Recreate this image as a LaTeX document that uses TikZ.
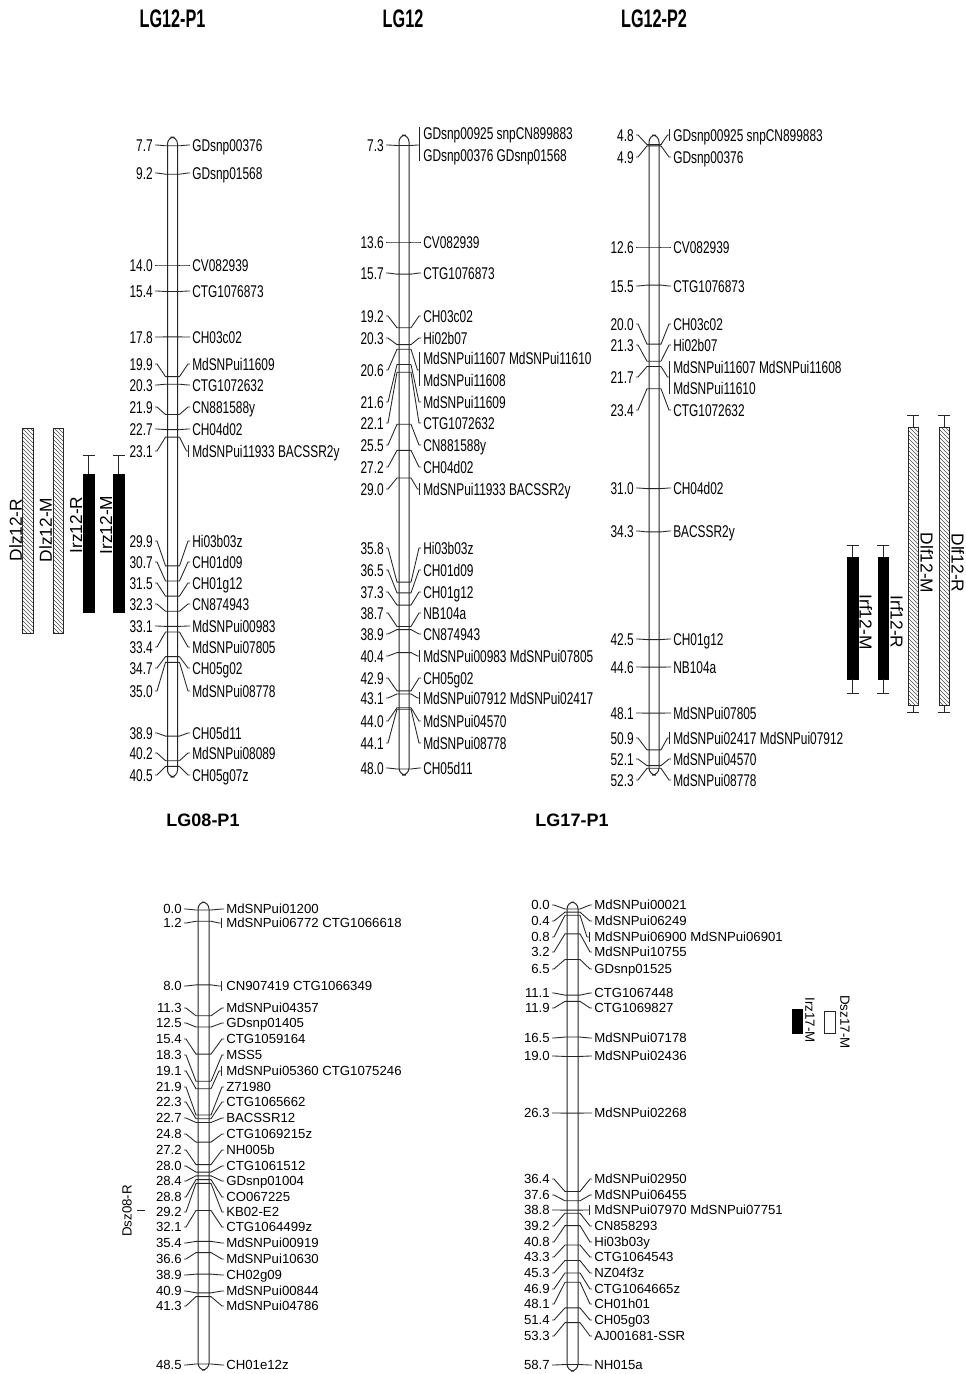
\documentclass[tikz,border=0pt]{standalone}
\usepackage{fontspec}
\setmainfont{Liberation Sans}
\newfontfamily\narrowfont[FakeStretch=0.70]{Liberation Sans}
\newfontfamily\titlenarrow[FakeStretch=0.64]{Liberation Sans}
\usetikzlibrary{calc,patterns}
\newcount\mkc
\newcommand\setchr[7]{\def\cL{#1}\def\cR{#2}\def\Nx{#3}\def\Mx{#4}\def\Yz{#5}\def\Cz{#6}\def\Sc{#7}}
\newcommand\chrom[2]{\draw[chr] (\cL,#1) rectangle (\cR,#2);}
\newcommand\mkstart[2]{%
  \global\advance\mkc by 1\relax
  \edef\id{\the\mkc}%
  \pgfmathsetmacro\ty{\Yz+(#1-\Cz)*\Sc}%
  \node[numlab] (n\id) at (\Nx,#2) {#1};%
  \coordinate (a\id) at (\cL,\ty);%
  \coordinate (b\id) at (\cR,\ty);%
  \draw[conn] ($(n\id.east)+(2,0)$) -- ($(n\id.east)+(4,0)$) -- ($(a\id)+(-2,0)$) -- (a\id) -- (b\id) -- ($(b\id)+(2,0)$);%
}
\newcommand\mk[3]{\mkstart{#1}{#2}%
  \node[namelab] (m\id) at (\Mx,#2) {#3};%
  \draw[conn] ($(b\id)+(2,0)$) -- ($(m\id.west)+(-4,0)$) -- ($(m\id.west)+(-2,0)$);}
\newcommand\mkb[3]{\mkstart{#1}{#2}%
  \node[namelab] (m\id) at (\Mx,#2) {#3};%
  \draw[conn] ($(b\id)+(2,0)$) -- ($(m\id.west)+(-\bg-2,0)$) -- ($(m\id.west)+(-\bg,0)$);%
  \draw[conn] ($(m\id.west)+(-\bg,-\bh)$) -- ($(m\id.west)+(-\bg,\bh)$);}
\newcommand\mkbb[6]{\mkstart{#1}{#2}%
  \node[namelab] (m\id) at (\Mx,#3) {#4};%
  \node[namelab] (p\id) at (\Mx,#5) {#6};%
  \coordinate (c\id) at (\Mx-\bg,#2);%
  \draw[conn] ($(b\id)+(2,0)$) -- ($(c\id)+(-2,0)$) -- (c\id);%
  \draw[conn] ($(m\id.west)+(-\bg,-\bh)$) -- ($(p\id.west)+(-\bg,\bh)$);}
\def\labfont{\narrowfont\fontsize{12.75}{13}\selectfont}
\def\capht{9.1pt}
\def\bg{3.5}\def\bh{6}
\tikzset{
  conn/.style={line width=0.65pt,draw=black!85},
  chr/.style={line width=0.75pt,draw=black!85,rounded corners=5.2},
  numlab/.style={anchor=east,inner sep=0pt,text height=\capht,text depth=0pt,font=\labfont,text=black},
  namelab/.style={anchor=west,inner sep=0pt,text height=\capht,text depth=0pt,font=\labfont,text=black},
  ttop/.style={font=\titlenarrow\bfseries\fontsize{19}{20}\selectfont,inner sep=0pt},
  tbot/.style={font=\bfseries\fontsize{13.5}{14}\selectfont,inner sep=0pt},
  qlab/.style={font=\fontsize{13}{14}\selectfont,inner sep=0pt},
  qlabs/.style={font=\fontsize{10}{11}\selectfont,inner sep=0pt},
  hbar/.style={draw=black!85,line width=0.7pt,pattern=north west lines,pattern color=black!70},
  bbar/.style={draw=black,fill=black,line width=0.7pt},
  wbar/.style={draw=black!85,fill=white,line width=0.7pt},
  whisk/.style={draw=black!85,line width=0.7pt}
}
\begin{document}
\begin{tikzpicture}[x=0.75pt,y=-0.75pt]
\fill[white] (0,0) rectangle (965,1374);
\path[use as bounding box] (0,0) rectangle (965,1374);
% titles
\node[ttop] (T1) at (172.5,19) {LG12-P1};
\node[ttop] (T2) at (403,19) {LG12};
\node[ttop] (T3) at (654,19) {LG12-P2};
\node[tbot] (T4) at (203,820) {LG08-P1};
\node[tbot] (T5) at (572,820) {LG17-P1};
% ---------- LG12-P1
\setchr{167.5}{177.5}{153}{192}{265}{14}{18.92}
\chrom{137}{777}
\mk{7.7}{145}{GDsnp00376}
\mk{9.2}{173}{GDsnp01568}
\mk{14.0}{265}{CV082939}
\mk{15.4}{291}{CTG1076873}
\mk{17.8}{337}{CH03c02}
\mk{19.9}{364}{MdSNPui11609}
\mk{20.3}{385}{CTG1072632}
\mk{21.9}{407}{CN881588y}
\mk{22.7}{429}{CH04d02}
\mkb{23.1}{451}{MdSNPui11933 BACSSR2y}
\mk{29.9}{541}{Hi03b03z}
\mk{30.7}{562}{CH01d09}
\mk{31.5}{583}{CH01g12}
\mk{32.3}{604}{CN874943}
\mk{33.1}{626}{MdSNPui00983}
\mk{33.4}{647}{MdSNPui07805}
\mk{34.7}{668}{CH05g02}
\mk{35.0}{691}{MdSNPui08778}
\mk{38.9}{733}{CH05d11}
\mk{40.2}{753}{MdSNPui08089}
\mk{40.5}{775}{CH05g07z}
% ---------- LG12
\setchr{399}{409}{384}{423}{242}{13.6}{15.32}
\chrom{135}{775}
\mkbb{7.3}{145}{133}{GDsnp00925 snpCN899883}{155}{GDsnp00376 GDsnp01568}
\mk{13.6}{242}{CV082939}
\mk{15.7}{273}{CTG1076873}
\mk{19.2}{316}{CH03c02}
\mk{20.3}{338}{Hi02b07}
\mkbb{20.6}{370}{358}{MdSNPui11607 MdSNPui11610}{380}{MdSNPui11608}
\mk{21.6}{402}{MdSNPui11609}
\mk{22.1}{423}{CTG1072632}
\mk{25.5}{445}{CN881588y}
\mk{27.2}{467}{CH04d02}
\mkb{29.0}{489}{MdSNPui11933 BACSSR2y}
\mk{35.8}{548}{Hi03b03z}
\mk{36.5}{570}{CH01d09}
\mk{37.3}{592}{CH01g12}
\mk{38.7}{613}{NB104a}
\mk{38.9}{634}{CN874943}
\mkb{40.4}{656}{MdSNPui00983 MdSNPui07805}
\mk{42.9}{678}{CH05g02}
\mkb{43.1}{698}{MdSNPui07912 MdSNPui02417}
\mk{44.0}{721}{MdSNPui04570}
\mk{44.1}{743}{MdSNPui08778}
\mk{48.0}{768}{CH05d11}
% ---------- LG12-P2
\setchr{649}{659}{634}{673}{247}{12.6}{13.13}
\chrom{135}{775}
\mkb{4.8}{135}{GDsnp00925 snpCN899883}
\mk{4.9}{157}{GDsnp00376}
\mk{12.6}{247}{CV082939}
\mk{15.5}{286}{CTG1076873}
\mk{20.0}{324}{CH03c02}
\mk{21.3}{345}{Hi02b07}
\mkbb{21.7}{377}{367}{MdSNPui11607 MdSNPui11608}{388}{MdSNPui11610}
\mk{23.4}{410}{CTG1072632}
\mk{31.0}{488}{CH04d02}
\mk{34.3}{531}{BACSSR2y}
\mk{42.5}{639}{CH01g12}
\mk{44.6}{667}{NB104a}
\mk{48.1}{713}{MdSNPui07805}
\mkb{50.9}{738}{MdSNPui02417 MdSNPui07912}
\mk{52.1}{759}{MdSNPui04570}
\mk{52.3}{780}{MdSNPui08778}
% ---------- QTL bars (top)
\draw[hbar] (22,428) rectangle (33,633);
\draw[hbar] (53,428) rectangle (63,633);
\draw[bbar] (83,474) rectangle (94,612);
\draw[whisk] (88.5,474) -- (88.5,455) (82.5,455) -- (94.5,455);
\draw[bbar] (113,474) rectangle (124,612);
\draw[whisk] (118.5,474) -- (118.5,455) (112.5,455) -- (124.5,455);
\node[qlab,rotate=90] (q1) at (15.5,530) {Dlz12-R};
\node[qlab,rotate=90] (q2) at (45.5,530) {Dlz12-M};
\node[qlab,rotate=90] (q3) at (76,525) {Irz12-R};
\node[qlab,rotate=90] (q4) at (106,525) {Irz12-M};
\draw[bbar] (847,557) rectangle (858,679);
\draw[whisk] (852.5,557) -- (852.5,545) (846.5,545) -- (858.5,545) (852.5,679) -- (852.5,693) (846.5,693) -- (858.5,693);
\draw[bbar] (878,557) rectangle (888,679);
\draw[whisk] (883,557) -- (883,545) (877,545) -- (889,545) (883,679) -- (883,693) (877,693) -- (889,693);
\draw[hbar] (908,427) rectangle (918,705);
\draw[whisk] (913,427) -- (913,415) (907,415) -- (919,415) (913,705) -- (913,712) (907,712) -- (919,712);
\draw[hbar] (939,427) rectangle (949,705);
\draw[whisk] (944,427) -- (944,415) (938,415) -- (950,415) (944,705) -- (944,712) (938,712) -- (950,712);
\node[qlab,rotate=-90] (q5) at (866,622) {Irf12-M};
\node[qlab,rotate=-90] (q6) at (897,622) {Irf12-R};
\node[qlab,rotate=-90] (q7) at (927,563) {Dlf12-M};
\node[qlab,rotate=-90] (q8) at (958,563) {Dlf12-R};
% ---------- bottom section fonts
\def\labfont{\fontsize{9.9}{10}\selectfont}
\def\capht{7.1pt}
\def\bg{5}\def\bh{5}
% ---------- LG08-P1
\setchr{198}{209}{182}{226}{910}{0}{9.36}
\chrom{902}{1370}
\mk{0.0}{909}{MdSNPui01200}
\mkb{1.2}{923}{MdSNPui06772 CTG1066618}
\mkb{8.0}{986}{CN907419 CTG1066349}
\mk{11.3}{1008}{MdSNPui04357}
\mk{12.5}{1023}{GDsnp01405}
\mk{15.4}{1039}{CTG1059164}
\mk{18.3}{1055}{MSS5}
\mkb{19.1}{1071}{MdSNPui05360 CTG1075246}
\mk{21.9}{1087}{Z71980}
\mk{22.3}{1102}{CTG1065662}
\mk{22.7}{1118}{BACSSR12}
\mk{24.8}{1134}{CTG1069215z}
\mk{27.2}{1150}{NH005b}
\mk{28.0}{1166}{CTG1061512}
\mk{28.4}{1181}{GDsnp01004}
\mk{28.8}{1197}{CO067225}
\mk{29.2}{1212}{KB02-E2}
\mk{32.1}{1227}{CTG1064499z}
\mk{35.4}{1243}{MdSNPui00919}
\mk{36.6}{1259}{MdSNPui10630}
\mk{38.9}{1275}{CH02g09}
\mk{40.9}{1291}{MdSNPui00844}
\mk{41.3}{1306}{MdSNPui04786}
\mk{48.5}{1365}{CH01e12z}
\draw[whisk] (137,1210) -- (145,1210);
\node[qlabs,rotate=90] (q11) at (127,1211) {Dsz08-R};
% ---------- LG17-P1
\setchr{567}{578}{550}{594}{909}{0}{7.76}
\chrom{902}{1371}
\mk{0.0}{905}{MdSNPui00021}
\mk{0.4}{921}{MdSNPui06249}
\mkb{0.8}{937}{MdSNPui06900 MdSNPui06901}
\mk{3.2}{952}{MdSNPui10755}
\mk{6.5}{969}{GDsnp01525}
\mk{11.1}{993}{CTG1067448}
\mk{11.9}{1008}{CTG1069827}
\mk{16.5}{1038}{MdSNPui07178}
\mk{19.0}{1056}{MdSNPui02436}
\mk{26.3}{1113}{MdSNPui02268}
\mk{36.4}{1179}{MdSNPui02950}
\mk{37.6}{1195}{MdSNPui06455}
\mkb{38.8}{1210}{MdSNPui07970 MdSNPui07751}
\mk{39.2}{1226}{CN858293}
\mk{40.8}{1242}{Hi03b03y}
\mk{43.3}{1257}{CTG1064543}
\mk{45.3}{1273}{NZ04f3z}
\mk{46.9}{1289}{CTG1064665z}
\mk{48.1}{1304}{CH01h01}
\mk{51.4}{1320}{CH05g03}
\mk{53.3}{1336}{AJ001681-SSR}
\mk{58.7}{1365}{NH015a}
\draw[bbar] (792,1009) rectangle (802,1033);
\draw[wbar] (824,1011) rectangle (835,1033);
\node[qlabs,rotate=-90] (q9) at (810,1020) {Irz17-M};
\node[qlabs,rotate=-90] (q10) at (845,1022) {Dsz17-M};
\end{tikzpicture}
\end{document}
